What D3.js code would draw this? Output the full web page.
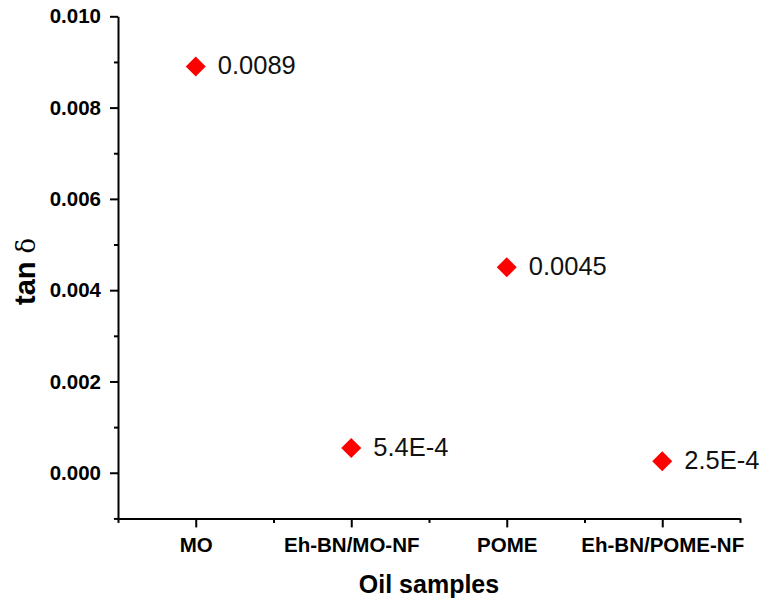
<!DOCTYPE html>
<html>
<head>
<meta charset="utf-8">
<script src="https://cdn.jsdelivr.net/npm/d3@7/dist/d3.min.js"></script>
<style>
  html, body { margin: 0; padding: 0; background: #fff; }
  svg { display: block; }
  text { font-family: Arial, "Liberation Sans", Helvetica, sans-serif; }
</style>
</head>
<body>
<svg id="chart" width="762" height="600"></svg>
<script>
// Dielectric dissipation factor of each oil sample
const samples = ["MO", "Eh-BN/MO-NF", "POME", "Eh-BN/POME-NF"];
const tanDelta = [0.0089, 0.00054, 0.0045, 0.00025];
const yMajorTicks = [0, 0.002, 0.004, 0.006, 0.008, 0.010];
const yMinorTicks = [-0.001, 0.001, 0.003, 0.005, 0.007, 0.009];
const xMinorTicks = [-0.5, 0.5, 1.5, 2.5, 3.5];

const svg = d3.select("#chart");

const x = d3.scaleLinear().domain([-0.5, 3.5]).range([118, 740]);
const y = d3.scaleLinear().domain([-0.001, 0.010]).range([518.4, 16.3]);

// Value labels: small values shown in E notation
const fmtValue = v => v < 0.001
  ? v.toExponential(1).toUpperCase()
  : v.toFixed(4);

// Y axis
const yAxis = svg.append("g").attr("transform", `translate(${x.range()[0]},0)`)
  .call(d3.axisLeft(y).tickValues(yMajorTicks).tickFormat(d3.format(".3f"))
    .tickSize(8).tickSizeOuter(0).tickPadding(9));
svg.append("g").attr("transform", `translate(${x.range()[0]},0)`)
  .call(d3.axisLeft(y).tickValues(yMinorTicks).tickFormat("").tickSize(4).tickSizeOuter(0))
  .call(g => g.select(".domain").remove());

// X axis
const xAxis = svg.append("g").attr("transform", `translate(0,${y.range()[0]})`)
  .call(d3.axisBottom(x).tickValues(d3.range(samples.length))
    .tickFormat(i => samples[i]).tickSize(9).tickSizeOuter(0).tickPadding(10));
svg.append("g").attr("transform", `translate(0,${y.range()[0]})`)
  .call(d3.axisBottom(x).tickValues(xMinorTicks).tickFormat("").tickSize(4.5).tickSizeOuter(0))
  .call(g => g.select(".domain").remove());

svg.selectAll(".domain, .tick line").attr("stroke", "#000").attr("stroke-width", 2);
[yAxis, xAxis].forEach(g => g.selectAll(".tick text")
  .attr("font-family", "Arial, 'Liberation Sans', sans-serif")
  .attr("font-size", 20.5).attr("font-weight", "bold").attr("fill", "#000"));

// Axis titles
svg.append("text")
  .attr("x", (x.range()[0] + x.range()[1]) / 2).attr("y", 593)
  .attr("text-anchor", "middle").attr("font-size", 25).attr("font-weight", "bold")
  .text("Oil samples");

const yTitle = svg.append("text")
  .attr("transform", `translate(35,${(y.range()[0] + y.range()[1]) / 2 + 4}) rotate(-90)`)
  .attr("text-anchor", "middle").attr("font-size", 29).attr("font-weight", "bold");
yTitle.append("tspan").text("tan ");
yTitle.append("tspan").attr("font-weight", "normal").attr("font-family", "'DejaVu Serif', serif")
  .attr("font-size", 26).text("δ");

// Points
const diamond = d3.symbol().type(d3.symbolSquare).size(200);
const pts = svg.append("g").selectAll("g").data(tanDelta).join("g")
  .attr("transform", (d, i) => `translate(${x(i)},${y(d)})`);
pts.append("path").attr("d", diamond).attr("transform", "rotate(45)").attr("fill", "#ff0000");
pts.append("text").attr("x", 22).attr("dy", "0.3em")
  .attr("font-size", 25.5).attr("fill", "#111")
  .text(d => fmtValue(d));
</script>
</body>
</html>
